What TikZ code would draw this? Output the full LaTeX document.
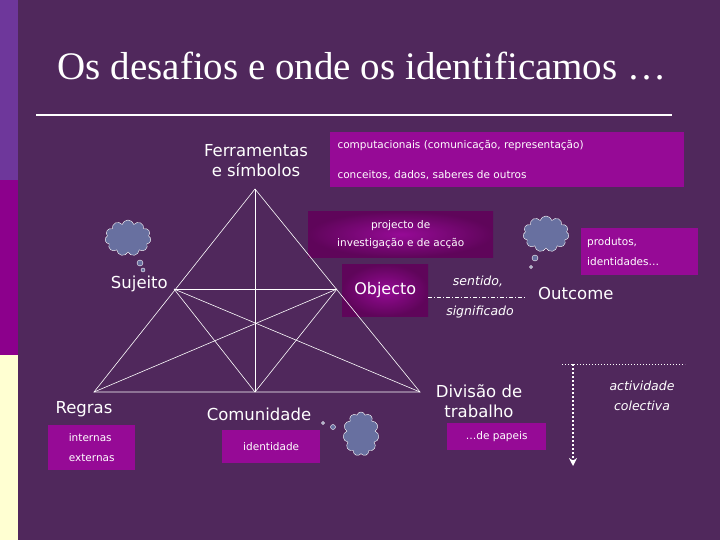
\documentclass[tikz,border=0pt]{standalone}
\usepackage{fontspec}
\setmainfont{DejaVu Sans}
\newfontfamily\titlefont{Liberation Serif}
\usetikzlibrary{shapes.symbols,arrows.meta}
\definecolor{bg}{RGB}{80,40,92}
\definecolor{mag}{RGB}{150,10,150}
\definecolor{dmag}{RGB}{95,5,90}
\definecolor{cloudc}{RGB}{104,112,160}
\definecolor{barA}{RGB}{110,55,155}
\definecolor{barB}{RGB}{140,0,140}
\definecolor{barC}{RGB}{255,255,210}
\tikzset{
 lbl/.style={text=white,font=\fontsize{16.5}{20}\selectfont,align=center,inner sep=1pt},
 boxm/.style={fill=mag,text=white,font=\fontsize{10.5}{20}\selectfont,align=left,anchor=north west,inner sep=0pt},
 boxd/.style={inner color=mag,outer color=dmag,text=white,anchor=north west,inner sep=0pt,align=center},
 thought/.style={cloud,cloud puffs=11,draw=white,fill=cloudc,minimum width=46pt,minimum height=36pt,inner sep=0pt},
 bub/.style={circle,draw=white,fill=cloudc,inner sep=0pt},
 edge/.style={white,line width=0.6pt},
 itl/.style={text=white,font=\itshape\fontsize{12.5}{20}\selectfont,align=center}
}
\begin{document}
\begin{tikzpicture}[x=1pt,y=-1pt]
\fill[bg] (0,0) rectangle (720,540);
\useasboundingbox (0,0) rectangle (720,540);
\fill[barA] (0,0) rectangle (18,180);
\fill[barB] (0,180) rectangle (18,355);
\fill[barC] (0,355) rectangle (18,540);
\node[text=white,font=\titlefont\fontsize{39}{44}\selectfont] (title) at (362,66) {Os desafios e onde os identificamos …};
\draw[white,line width=2pt] (36,115) -- (672,115);
% boxes
\node[boxm,minimum width=354pt,minimum height=55pt] (comp) at (330,132) {};
\node[text=white,font=\fontsize{10.5}{12}\selectfont,anchor=west] (c1) at (334,146) {computacionais (comunicação, representação)};
\node[text=white,font=\fontsize{10.5}{12}\selectfont,anchor=west] (c2) at (334,175) {conceitos, dados, saberes de outros};
\node[boxd,minimum width=185pt,minimum height=46pt,font=\fontsize{10.5}{18}\selectfont] (proj) at (308,211) {projecto de\\investigação e de acção};
\node[boxd,minimum width=86pt,minimum height=52pt,font=\fontsize{16}{18}\selectfont] (obj) at (342,264) {Objecto};
\node[boxm,minimum width=113pt,minimum height=47pt,text width=105pt,inner xsep=6pt] (prod) at (581,228) {produtos,\\identidades…};
\node[boxm,minimum width=87pt,minimum height=45pt,inner xsep=7pt] (int) at (48,425) {internas\\externas};
\node[boxm,minimum width=98pt,minimum height=33pt,inner xsep=7pt] (ident) at (222,430) {identidade};
\node[boxm,minimum width=99pt,minimum height=27pt,inner xsep=8pt] (pap) at (447,423) {…de papeis};
% triangle
\coordinate (T) at (255,189);
\coordinate (S) at (174,289);
\coordinate (O) at (337,289);
\coordinate (R) at (94,392);
\coordinate (C) at (255,392);
\coordinate (D) at (420,392);
\draw[edge] (T) -- (R) -- (D) -- cycle;
\draw[edge] (T) -- (C);
\draw[edge] (S) -- (O);
\draw[edge] (S) -- (C) -- (O);
\draw[edge] (S) -- (D);
\draw[edge] (O) -- (R);
% labels
\node[lbl] (ferr) at (256,161) {Ferramentas\\e símbolos};
\node[lbl,anchor=east] (suj) at (169,284) {Sujeito};
\node[lbl] (reg) at (84,409) {Regras};
\node[lbl] (com) at (259,414) {Comunidade};
\node[lbl] (div) at (479,401) {Divisão de\\trabalho};
\node[lbl,anchor=west] (out) at (537,293) {Outcome};
\node[itl] (sent) at (478,281) {sentido,};
\node[itl] (sig) at (480,312) {significado};
\draw[white,dash pattern=on 4pt off 2pt on 1pt off 2pt] (obj.east |- 0,297) coordinate (d1) -- (527,297) coordinate (d2);
% clouds
\node[thought] (cl1) at (128,238) {};
\node[bub,minimum size=6pt] (b1a) at (140,263) {};
\node[bub,minimum size=4pt] (b1b) at (143,270) {};
\node[thought] (cl2) at (546,234) {};
\node[bub,minimum size=6pt] (b2a) at (535,258) {};
\node[bub,minimum size=3pt] (b2b) at (531,267) {};
\node[thought,minimum width=36pt,minimum height=44pt] (cl3) at (361,434) {};
\node[bub,minimum size=5pt] (b3a) at (333,427) {};
\node[bub,minimum size=3pt] (b3b) at (323,423) {};
% dotted arrow
\coordinate (a1) at (562,364);
\coordinate (a2) at (685,364);
\coordinate (a3) at (573,364);
\coordinate (a4) at (573,466);
\draw[white,dotted,line width=1pt] (a1) -- (a2);
\draw[white,dotted,line width=2pt,-{Stealth[length=8pt,width=8pt]}] (a3) -- (a4);
\node[itl] (act) at (642,396) {actividade\\colectiva};
\end{tikzpicture}
\end{document}
